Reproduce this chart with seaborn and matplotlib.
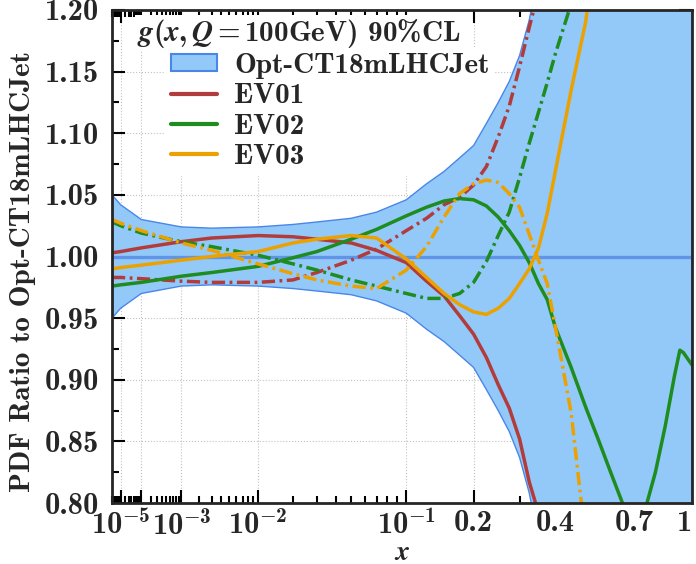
import numpy as np
import pandas as pd
import matplotlib
matplotlib.use("Agg")
import matplotlib.pyplot as plt
import seaborn as sns
from matplotlib.ticker import FixedLocator, FixedFormatter, NullFormatter
from matplotlib.patches import Patch
from matplotlib.lines import Line2D

# ---------------- data ----------------
x = [1.8e-6, 1e-5, 1e-4, 1e-3, 3e-3, 1e-2, 0.02, 0.03, 0.05, 0.07, 0.1, 0.125,
     0.15, 0.175, 0.2, 0.225, 0.25, 0.275, 0.3, 0.325, 0.35, 0.375, 0.4, 0.45,
     0.5, 0.55, 0.6, 0.65, 0.7, 0.75, 0.8, 0.85, 0.9, 0.93, 0.95, 1.0]

band_hi = [1.050, 1.042, 1.030, 1.024, 1.023, 1.024, 1.026, 1.028, 1.031, 1.036,
           1.046, 1.059, 1.069, 1.080, 1.090, 1.108, 1.125, 1.142, 1.163, 1.192,
           1.23, 1.27, 1.32, 1.42, 1.55, 1.70, 1.90, 2.10, 2.40, 2.70, 3.00,
           3.50, 4.00, 4.30, 4.50, 5.00]
band_lo = [0.950, 0.958, 0.970, 0.976, 0.977, 0.976, 0.974, 0.972, 0.969, 0.964,
           0.954, 0.941, 0.931, 0.920, 0.910, 0.892, 0.875, 0.858, 0.837, 0.808,
           0.77, 0.73, 0.68, 0.58, 0.45, 0.30, 0.10, -0.10, -0.40, -0.70, -1.00,
           -1.50, -2.00, -2.30, -2.50, -3.00]
central_value = 1.0

nan = np.nan
ev01_plus = [1.003, 1.004, 1.007, 1.012, 1.015, 1.017, 1.016, 1.014, 1.011, 1.005,
             0.995, 0.980, 0.968, 0.952, 0.937, 0.918, 0.896, 0.877, 0.852, 0.817,
             0.792, 0.760, nan, nan, nan, nan, nan, nan, nan, nan, nan, nan, nan,
             nan, nan, nan]
ev01_minus = [0.983, 0.983, 0.982, 0.980, 0.979, 0.979, 0.981, 0.987, 0.997, 1.006,
              1.021, 1.031, 1.042, 1.048, 1.058, 1.073, 1.097, 1.122, 1.154, 1.186,
              1.215, 1.250, nan, nan, nan, nan, nan, nan, nan, nan, nan, nan, nan,
              nan, nan, nan]
ev02_plus = [0.976, 0.977, 0.979, 0.984, 0.987, 0.992, 0.999, 1.004, 1.014, 1.022,
             1.033, 1.040, 1.045, 1.047, 1.046, 1.041, 1.032, 1.021, 1.009, 0.995,
             0.978, 0.965, 0.942, 0.910, 0.878, 0.850, 0.823, 0.798, 0.780, 0.795,
             0.825, 0.862, 0.903, 0.924, 0.922, 0.912]
ev02_minus = [1.028, 1.025, 1.019, 1.012, 1.008, 1.001, 0.994, 0.989, 0.981, 0.976,
              0.970, 0.966, 0.966, 0.970, 0.979, 0.996, 1.017, 1.036, 1.064, 1.092,
              1.117, 1.141, 1.165, 1.205, 1.250, nan, nan, nan, nan, nan, nan, nan,
              nan, nan, nan, nan]
ev03_plus = [0.990, 0.991, 0.993, 0.997, 1.000, 1.004, 1.011, 1.014, 1.017, 1.015,
             0.998, 0.983, 0.970, 0.961, 0.955, 0.953, 0.958, 0.966, 0.978, 0.990,
             1.007, 1.035, 1.070, 1.135, 1.190, 1.270, nan, nan, nan, nan, nan, nan,
             nan, nan, nan, nan]
ev03_minus = [1.030, 1.027, 1.021, 1.011, 1.005, 0.994, 0.986, 0.981, 0.976, 0.974,
              0.989, 1.008, 1.032, 1.051, 1.059, 1.062, 1.060, 1.051, 1.040, 1.018,
              0.997, 0.978, 0.942, 0.873, 0.770, nan, nan, nan, nan, nan, nan, nan,
              nan, nan, nan, nan]

x_major = [1e-5, 1e-4, 1e-3, 1e-2, 0.1, 0.2, 0.4, 0.7, 1.0]
x_major_labels = [r"$10^{-5}$", "", r"$10^{-3}$", r"$10^{-2}$", r"$10^{-1}$",
                  "0.2", "0.4", "0.7", "1"]
y_major = [0.80, 0.85, 0.90, 0.95, 1.00, 1.05, 1.10, 1.15, 1.20]
y_minor = [0.825, 0.875, 0.925, 0.975, 1.025, 1.075, 1.125, 1.175]

set_names = ["EV01", "EV02", "EV03"]
set_colors = {"EV01": "#b23b3b", "EV02": "#1e8c1e", "EV03": "#eba200"}
band_label = "Opt-CT18mLHCJet"
title_text = r"$g(x,Q=$100GeV$)$ 90%CL"

# ---------------- styling ----------------
sns.set_style("ticks")
plt.rcParams.update({
    "font.family": ["cmb10", "DejaVu Serif"],
    "axes.unicode_minus": False,
    "mathtext.fontset": "custom",
    "mathtext.rm": "cmb10",
    "mathtext.bf": "cmb10",
    "mathtext.it": "STIXGeneral:italic:bold",
    "mathtext.fallback": "cm",
})

P = 0.285
def fwd(v):
    return np.power(np.clip(v, 1e-12, None), P)
def inv(v):
    return np.power(np.clip(v, 1e-12, None), 1.0 / P)

fig = plt.figure(figsize=(6.96, 5.64), dpi=100)
ax = fig.add_axes([112 / 696, 1 - 503 / 564, 580 / 696, 493 / 564])
ax.set_xscale("function", functions=(fwd, inv))

# band
ax.fill_between(x, band_lo, band_hi, facecolor="#93c9f9", edgecolor="#4a86e8",
                linewidth=1.0, zorder=1)
ax.axhline(central_value, color="#5b8fe6", lw=2.4, alpha=0.9, zorder=2)

# curves
rows = []
for name, plus, minus in [("EV01", ev01_plus, ev01_minus),
                          ("EV02", ev02_plus, ev02_minus),
                          ("EV03", ev03_plus, ev03_minus)]:
    for xi, a, b in zip(x, plus, minus):
        rows.append({"x": xi, "ratio": a, "set": name, "dir": "+"})
        rows.append({"x": xi, "ratio": b, "set": name, "dir": "-"})
df = pd.DataFrame(rows)

for name in set_names:
    sub = df[df["set"] == name].dropna()
    sns.lineplot(data=sub, x="x", y="ratio", style="dir", color=set_colors[name],
                 dashes={"+": "", "-": (3.8, 1.3, 0.8, 1.3)},
                 linewidth=2.5, legend=False, ax=ax, zorder=3,
                 estimator=None, sort=True)

ax.set_xlim(1.8e-6, 1.0)
ax.set_ylim(0.80, 1.20)

# ticks
minor = []
for e in range(-6, -1):
    minor += [k * 10.0 ** e for k in range(2, 10)]
minor += [0.3, 0.5, 0.6, 0.8, 0.9]
ax.xaxis.set_major_locator(FixedLocator(x_major))
ax.xaxis.set_major_formatter(FixedFormatter(x_major_labels))
ax.xaxis.set_minor_locator(FixedLocator(minor))
ax.xaxis.set_minor_formatter(NullFormatter())
ax.yaxis.set_major_locator(FixedLocator(y_major))
ax.yaxis.set_minor_locator(FixedLocator(y_minor))
ax.set_yticklabels([f"{v:.2f}" for v in y_major])
ax.tick_params(which="both", direction="in", top=True, right=True,
               width=1.5, color="black", labelsize=22)
ax.tick_params(which="major", length=9.5)
ax.tick_params(which="minor", length=5)
ax.tick_params(axis="x", pad=5)
ax.tick_params(axis="y", pad=9)
ax.get_xticklabels()[-1].set_horizontalalignment("right")
for s in ax.spines.values():
    s.set_linewidth(2.0)
    s.set_zorder(6)

ax.set_axisbelow(True)
ax.grid(True, which="major", ls=":", color="#bbbbbb", lw=0.8, alpha=0.9, zorder=0.5)

ax.set_xlabel(r"$x$", fontsize=20)
ax.xaxis.set_label_coords(0.5, -0.075)
ax.set_ylabel("PDF Ratio to Opt-CT18mLHCJet", fontsize=21)
ax.yaxis.set_label_coords(-0.131, 0.47)

# legend
handles = [Patch(facecolor="#93c9f9", edgecolor="#4a86e8", lw=1.5, label=band_label)]
for name in set_names:
    handles.append(Line2D([0], [0], color=set_colors[name], lw=3, label=name))
leg = ax.legend(handles=handles, loc="upper left", bbox_to_anchor=(0.092, 0.925),
                borderaxespad=0.0, fontsize=21,
                frameon=True, facecolor="white", edgecolor="none", framealpha=1.0,
                handlelength=1.58, handleheight=0.55, handletextpad=0.58,
                labelspacing=0.15, borderpad=0.2, fancybox=False)
leg.set_zorder(0.9)
ax.text(0.043, 0.953, title_text, transform=ax.transAxes, fontsize=21,
        ha="left", va="center", zorder=7,
        bbox=dict(facecolor="white", edgecolor="none", pad=1.0))

fig.savefig("out.png", dpi=100)
